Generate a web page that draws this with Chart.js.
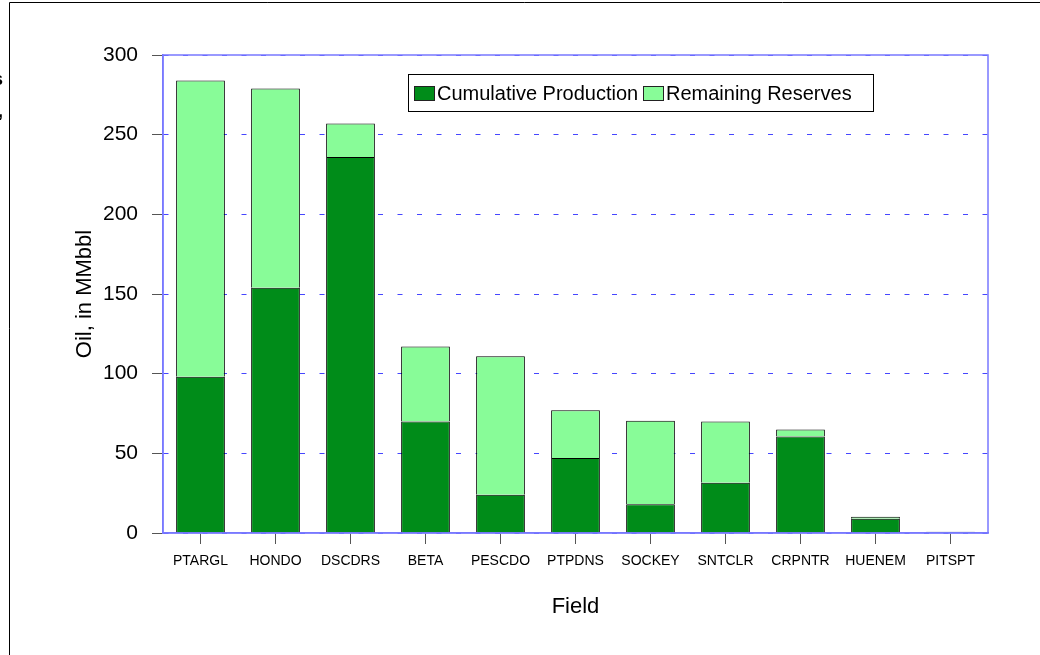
<!DOCTYPE html>
<html>
<head>
<meta charset="utf-8">
<script src="https://cdn.jsdelivr.net/npm/chart.js@4.4.1/dist/chart.umd.min.js"></script>
<style>
  html, body { margin: 0; padding: 0; background: #fff; }
  #wrap { width: 1040px; height: 655px; position: relative; }
</style>
</head>
<body>
<div id="wrap"><canvas id="grafico" width="1040" height="655"></canvas></div>
<script>
const campos = ["PTARGL", "HONDO", "DSCDRS", "BETA", "PESCDO", "PTPDNS", "SOCKEY", "SNTCLR", "CRPNTR", "HUENEM", "PITSPT"];
const producao = [98, 154, 236, 70, 24, 47, 18, 31.5, 60.5, 9, 0.5];
const reservas = [186, 125, 21, 47, 87, 30, 52.5, 38.5, 4.5, 1.2, 0.3];
const ticksY = [0, 50, 100, 150, 200, 250, 300];

const fonte = "'Liberation Sans', Arial, sans-serif";
const corProducao = "#008c19";
const corReservas = "#88fc98";

// moldura, legenda e textos cortados da margem
const extras = {
    id: "extras",
    beforeDraw(chart) {
        const ctx = chart.ctx;
        ctx.save();
        ctx.strokeStyle = "#000";
        ctx.lineWidth = 1;
        ctx.beginPath();
        ctx.moveTo(9.5, 655);
        ctx.lineTo(9.5, 2.5);
        ctx.lineTo(1040, 2.5);
        ctx.stroke();
        ctx.fillStyle = "#000";
        ctx.font = "bold 18px " + fonte;
        ctx.textAlign = "right";
        ctx.textBaseline = "middle";
        ctx.fillText("s", 3, 80);
        ctx.fillText("g,", 3, 112);
        ctx.restore();
    },
    afterDraw(chart) {
        const ctx = chart.ctx;
        const a = chart.chartArea;
        ctx.save();
        ctx.strokeStyle = "#7878ff";
        ctx.lineWidth = 1.5;
        ctx.strokeRect(a.left, a.top, a.right - a.left, a.bottom - a.top);

        // legenda
        ctx.fillStyle = "#fff";
        ctx.fillRect(408, 74, 465, 37);
        ctx.strokeStyle = "#000";
        ctx.lineWidth = 1;
        ctx.strokeRect(408.5, 74.5, 465, 37);
        ctx.font = "20px " + fonte;
        ctx.textBaseline = "middle";
        ctx.textAlign = "left";
        const itens = [
            { x: 414, texto: chart.data.datasets[0].label, cor: corProducao },
            { x: 643, texto: chart.data.datasets[1].label, cor: corReservas }
        ];
        itens.forEach(it => {
            ctx.fillStyle = it.cor;
            ctx.fillRect(it.x, 86, 20, 14);
            ctx.strokeStyle = "#222";
            ctx.strokeRect(it.x + 0.5, 86.5, 20, 14);
            ctx.fillStyle = "#000";
            ctx.fillText(it.texto, it.x + 23, 94);
        });
        ctx.restore();
    }
};

new Chart(document.getElementById("grafico").getContext("2d"), {
    type: "bar",
    data: {
        labels: campos,
        datasets: [
            {
                label: "Cumulative Production",
                data: producao,
                backgroundColor: corProducao,
                borderColor: "#000",
                borderWidth: 1,
                barPercentage: 0.65,
                categoryPercentage: 1
            },
            {
                label: "Remaining Reserves",
                data: reservas,
                backgroundColor: corReservas,
                borderColor: "#000",
                borderWidth: 1,
                barPercentage: 0.65,
                categoryPercentage: 1
            }
        ]
    },
    options: {
        responsive: false,
        animation: false,
        layout: { padding: { left: 0, top: 55, right: 52, bottom: 0 } },
        plugins: {
            legend: { display: false },
            tooltip: { enabled: false }
        },
        scales: {
            x: {
                stacked: true,
                afterFit: s => { s.height = 122; },
                grid: {
                    offset: false,
                    drawOnChartArea: false,
                    drawTicks: true,
                    tickLength: 11,
                    tickColor: "#555",
                    tickWidth: 1
                },
                border: { display: true, color: "#7878ff", width: 1.5 },
                ticks: {
                    color: "#000",
                    font: { family: fonte, size: 14 },
                    padding: 9,
                    maxRotation: 0,
                    autoSkip: false
                },
                title: {
                    display: true,
                    text: "Field",
                    color: "#000",
                    font: { family: fonte, size: 22 },
                    padding: { top: 0, bottom: 35 }
                }
            },
            y: {
                stacked: true,
                min: 0,
                max: 300,
                afterFit: s => { s.width = 163; },
                afterBuildTicks: s => { s.ticks = ticksY.map(v => ({ value: v })); },
                grid: {
                    color: "#4646ff",
                    lineWidth: 1,
                    drawTicks: true,
                    tickLength: 11,
                    tickColor: "#555",
                    tickBorderDash: [],
                    tickWidth: 1
                },
                border: { display: true, color: "#7878ff", width: 1.5, dash: [5, 14.5] },
                ticks: {
                    color: "#000",
                    font: { family: fonte, size: 21 },
                    padding: 14
                },
                title: {
                    display: true,
                    text: "Oil, in MMbbl",
                    color: "#000",
                    font: { family: fonte, size: 22 },
                    padding: { top: 72, bottom: 0 }
                }
            }
        }
    },
    plugins: [extras]
});
</script>
</body>
</html>
